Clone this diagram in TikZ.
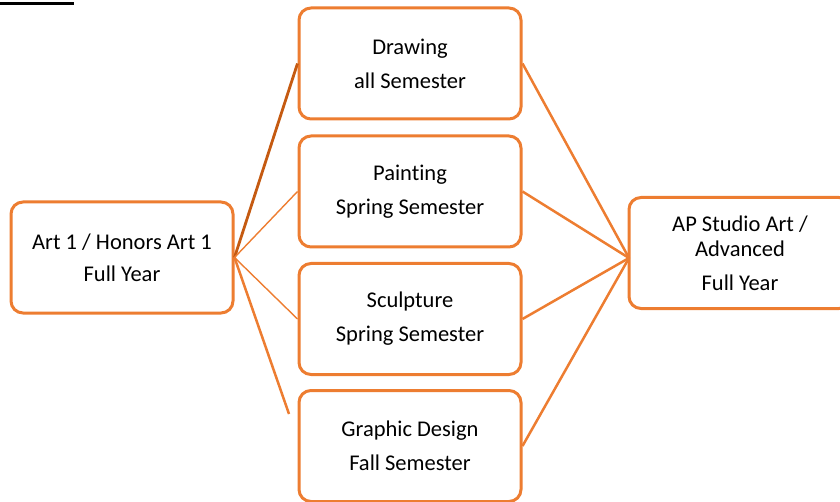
\documentclass[tikz,border=0pt]{standalone}
\usepackage{fontspec}
\setmainfont[Ligatures=NoCommon]{Carlito}
\usepackage{tikz}
\usetikzlibrary{arrows}

\definecolor{boxorange}{HTML}{ED7D31}
\definecolor{darkorange}{HTML}{C55A11}

\begin{document}
\begin{tikzpicture}[x=0.5pt,y=-0.5pt,semithick,
    course/.style={draw=boxorange,line width=1.5pt,rounded corners=6pt,
                   fill=white,align=center,inner sep=0pt,
                   minimum width=111pt,minimum height=55.5pt,
                   font=\fontsize{11.25}{17}\selectfont},
    link/.style={draw=boxorange,line width=1.25pt},
    thin link/.style={draw=boxorange,line width=0.7pt}]
  \clip (0,0) rectangle (840,502);

  \draw[line width=1.5pt] (0,3.5) -- (74,3.5);

  \path   (122,257.5) node[course] (art)       {Art 1 / Honors Art 1\\[-1pt]Full Year}
          (410, 63.5) node[course] (drawing)   {Drawing\\all Semester}
          (410,191.5) node[course] (painting)  {Painting\\Spring Semester}
          (410,319  ) node[course] (sculpture) {Sculpture\\Spring Semester}
          (410,446  ) node[course] (graphic)   {Graphic Design\\Fall Semester}
          (740,253  ) node[course] (ap)        {AP Studio Art /\\[-4.5pt]Advanced\\Full Year};

  \coordinate (gfree)  at (289,414);
  \coordinate (apjoin) at (629,258);

  \path (art.east)  edge [link,draw=darkorange,line width=1.4pt] (drawing.west)
                    edge [thin link] (painting.west)
                    edge [thin link] (sculpture.west)
                    edge [link] (gfree)

        (apjoin)    edge [link] (drawing.east)
                    edge [link] (painting.east)
                    edge [link] (sculpture.east)
                    edge [link] (graphic.east);
\end{tikzpicture}
\end{document}
